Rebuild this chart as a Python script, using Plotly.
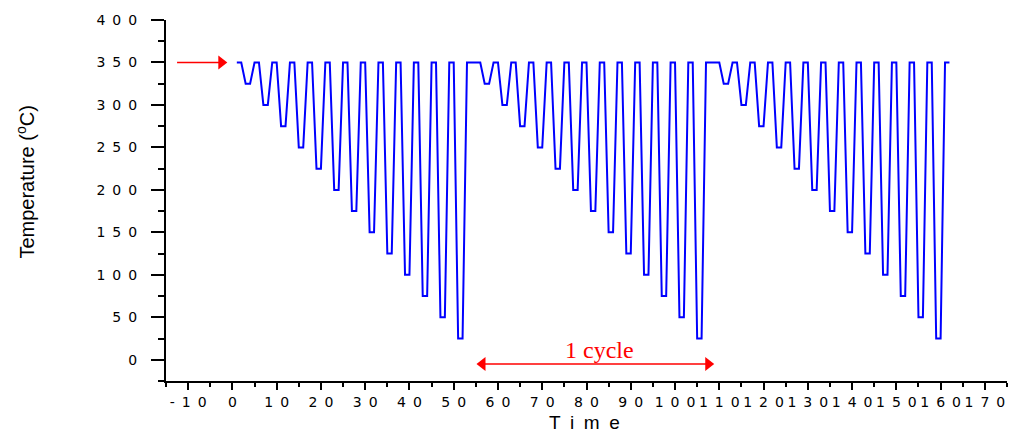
import plotly.graph_objects as go

# ---------------- data ----------------
# one thermal-cycling profile (time relative to cycle start, temperature in degC)
profile_time = [0,
                1, 2, 3, 4,
                5, 6, 7, 8,
                9, 10, 11, 12,
                13, 14, 15, 16,
                17, 18, 19, 20,
                21, 22, 23, 24,
                25, 26, 27, 28,
                29, 30, 31, 32,
                33, 34, 35, 36,
                37, 38, 39, 40,
                41, 42, 43, 44,
                45, 46, 47, 48,
                49, 50, 51, 52]
profile_temp = [350,
                350, 325, 325, 350,
                350, 300, 300, 350,
                350, 275, 275, 350,
                350, 250, 250, 350,
                350, 225, 225, 350,
                350, 200, 200, 350,
                350, 175, 175, 350,
                350, 150, 150, 350,
                350, 125, 125, 350,
                350, 100, 100, 350,
                350, 75, 75, 350,
                350, 50, 50, 350,
                350, 25, 25, 350]
cycle_starts = [1, 55, 109]
end_time = [162]
end_temp = [350]

x_tick_vals = [-10, 0, 10, 20, 30, 40, 50, 60, 70, 80, 90, 100, 110, 120, 130, 140, 150, 160, 170]
y_tick_vals = [0, 50, 100, 150, 200, 250, 300, 350, 400]

cycle_from, cycle_to, cycle_arrow_y, cycle_text_y = 55, 109, -5, 12
marker_arrow_from, marker_arrow_to, marker_arrow_y = -12.5, -1, 350

# ---------------- build series ----------------
time_vals, temp_vals = [], []
for s in cycle_starts:
    time_vals += [s + t for t in profile_time]
    temp_vals += profile_temp
time_vals += end_time
temp_vals += end_temp


def spaced(v, sep):
    return sep.join(str(v))


x_tick_text = [spaced(v, "\u2002") for v in x_tick_vals]
y_tick_text = [spaced(v, "\u2002") for v in y_tick_vals]

RED = "#ff0000"
HEAD = 1.5  # arrow-head offset (x units) so the triangle tip sits at the arrow end

fig = go.Figure()
fig.add_trace(go.Scatter(x=time_vals, y=temp_vals, mode="lines",
                         line=dict(color="#0000ff", width=2), showlegend=False,
                         hoverinfo="skip"))

# arrow shafts
fig.add_trace(go.Scatter(x=[marker_arrow_from, marker_arrow_to - HEAD],
                         y=[marker_arrow_y, marker_arrow_y], mode="lines",
                         line=dict(color=RED, width=1.5), showlegend=False, hoverinfo="skip"))
fig.add_trace(go.Scatter(x=[cycle_from + HEAD, cycle_to - HEAD],
                         y=[cycle_arrow_y, cycle_arrow_y], mode="lines",
                         line=dict(color=RED, width=1.5), showlegend=False, hoverinfo="skip"))
# arrow heads
fig.add_trace(go.Scatter(x=[marker_arrow_to - HEAD, cycle_to - HEAD],
                         y=[marker_arrow_y, cycle_arrow_y], mode="markers",
                         marker=dict(symbol="triangle-right", size=12, color=RED,
                                     line=dict(width=0)),
                         showlegend=False, hoverinfo="skip", cliponaxis=False))
fig.add_trace(go.Scatter(x=[cycle_from + HEAD], y=[cycle_arrow_y], mode="markers",
                         marker=dict(symbol="triangle-left", size=12, color=RED,
                                     line=dict(width=0)),
                         showlegend=False, hoverinfo="skip", cliponaxis=False))

axis_font = dict(family="DejaVu Sans, Liberation Sans, sans-serif", size=14, color="black")

fig.update_xaxes(range=[-15, 175], tickmode="array", tickvals=x_tick_vals,
                 ticktext=x_tick_text, ticks="outside", ticklen=7, tickwidth=1.5,
                 tickcolor="black", showline=True, linewidth=2, linecolor="black",
                 showgrid=False, zeroline=False, tickfont=axis_font, tickangle=0,
                 ticklabelstandoff=0, automargin=False,
                 minor=dict(tickmode="linear", tick0=0, dtick=5, ticks="outside",
                            ticklen=4, tickwidth=1.5, tickcolor="black", showgrid=False))
fig.update_yaxes(range=[-25, 400], tickmode="array", tickvals=y_tick_vals,
                 ticktext=y_tick_text, ticks="outside", ticklen=13, tickwidth=1.5,
                 tickcolor="black", showline=True, linewidth=2, linecolor="black",
                 showgrid=False, zeroline=False, tickfont=axis_font, tickangle=0,
                 ticklabelstandoff=11, automargin=False,
                 minor=dict(tickmode="linear", tick0=0, dtick=25, ticks="outside",
                            ticklen=6, tickwidth=1.5, tickcolor="black", showgrid=False))

# small extension of x axis line to the left of the y axis
fig.add_shape(type="line", xref="paper", yref="paper", x0=-0.0095, x1=0, y0=0, y1=0,
              line=dict(color="black", width=2))

fig.add_annotation(x=(cycle_from + cycle_to) / 2 + 1, y=cycle_text_y, xref="x", yref="y",
                   text="1 cycle", showarrow=False,
                   font=dict(family="Liberation Serif, Times New Roman, serif", size=24,
                             color=RED))

# axis titles
fig.add_annotation(x=-0.1675, y=0.55, xref="paper", yref="paper",
                   text="Temperature (<sup>o</sup>C)", textangle=-90, showarrow=False,
                   xanchor="center", yanchor="middle",
                   font=dict(family="Liberation Sans, Arial, sans-serif", size=20, color="black"))
fig.add_annotation(x=0.4976, y=-0.1163, xref="paper", yref="paper",
                   text="T\u2002i\u2002m\u2002e", showarrow=False,
                   xanchor="center", yanchor="middle",
                   font=dict(family="Liberation Sans, Arial, sans-serif", size=19, color="black"))

fig.update_layout(width=1010, height=432, margin=dict(l=166, r=3, t=20, b=51),
                  paper_bgcolor="white", plot_bgcolor="white", showlegend=False)

fig.write_html("out.html")
